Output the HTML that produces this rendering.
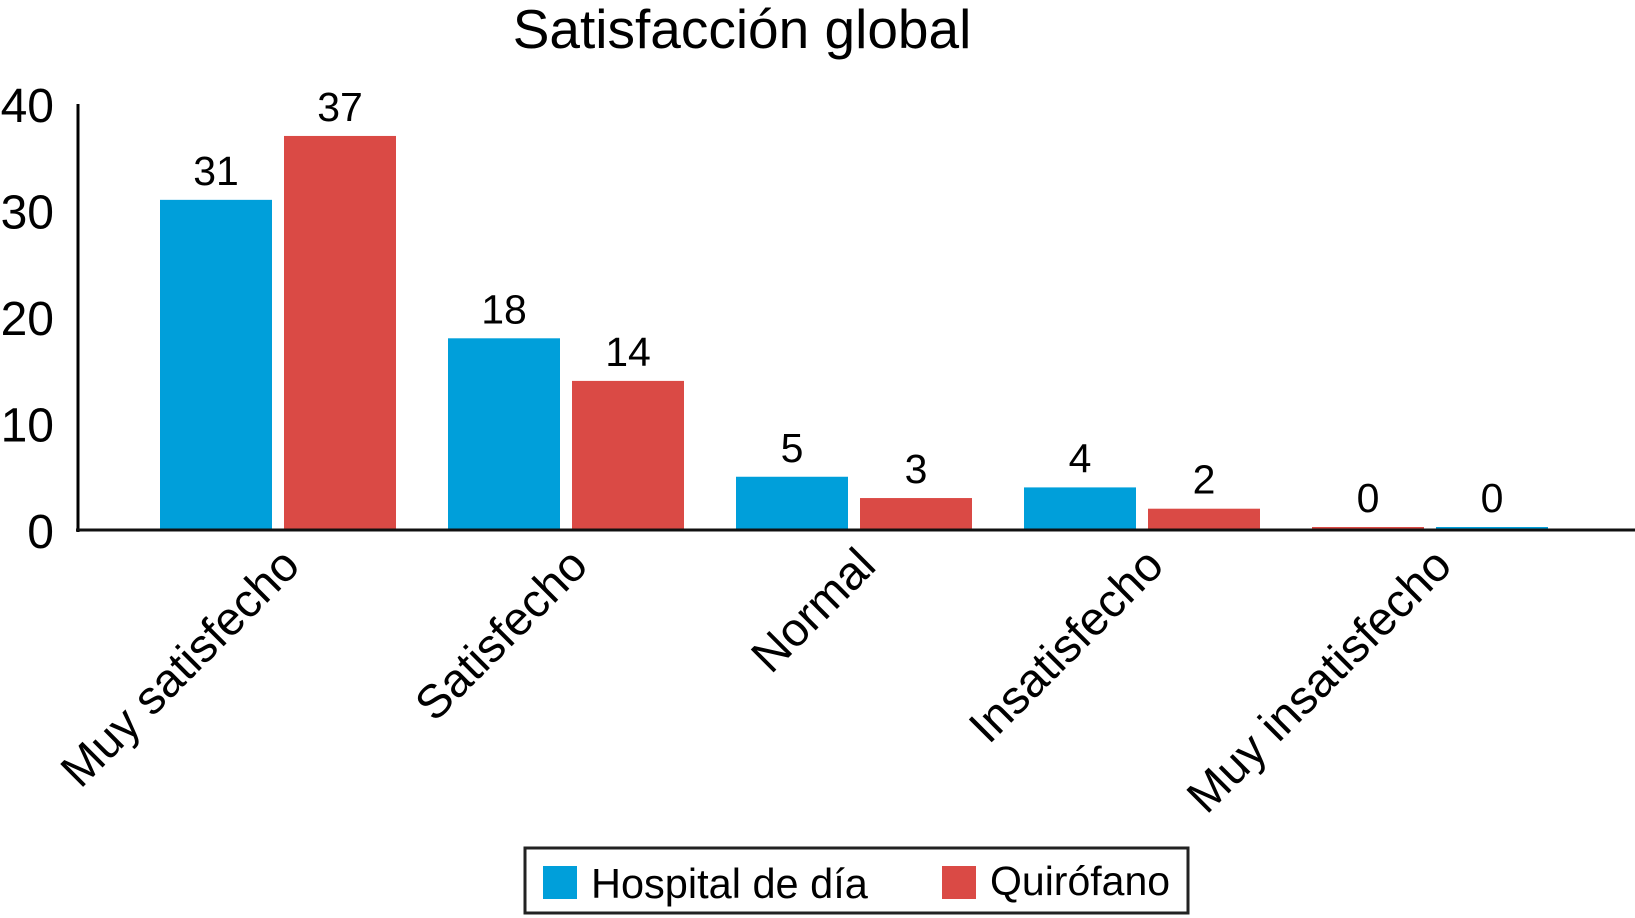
<!DOCTYPE html>
<html><head><meta charset="utf-8"><style>
html,body{margin:0;padding:0;background:#fff;}
svg{display:block;font-family:"Liberation Sans",sans-serif;}
</style></head><body>
<svg id="chart" width="1635" height="918" viewBox="0 0 1635 918">
<text x="742" y="48" font-size="55" text-anchor="middle" fill="#000">Satisfacción global</text>
<g id="ticks"></g>
<g id="bars"></g>
<g id="cats"></g>
<line x1="78" y1="104" x2="78" y2="532" stroke="#000" stroke-width="3"/>
<line x1="76" y1="530" x2="1635" y2="530" stroke="#111" stroke-width="3"/>
<g>
<rect x="525" y="848" width="663" height="65" fill="#fff" stroke="#222" stroke-width="3"/>
<rect x="543" y="866" width="34" height="33" fill="#009fda"/>
<text x="591" y="898" font-size="41.5" fill="#000">Hospital de día</text>
<rect x="942" y="866" width="34" height="33" fill="#da4a45"/>
<text x="990" y="895" font-size="41" fill="#000">Quirófano</text>
</g>
</svg>
<script>
const categories = ["Muy satisfecho","Satisfecho","Normal","Insatisfecho","Muy insatisfecho"];
const hospitalValues = [31,18,5,4,0];
const quirofanoValues = [37,14,3,2,0];
const yTicks = [0,10,20,30,40];
const NS="http://www.w3.org/2000/svg";
const y0=530, yTop=104, yMax=40;
function yScale(v){return y0-(v/yMax)*(y0-yTop);}
const groupStart=160, groupStep=288, barW=112, pairGap=12;
function xScale(i,s){return groupStart+i*groupStep+s*(barW+pairGap);}
const tg=document.getElementById('ticks');
yTicks.forEach(t=>{
 const e=document.createElementNS(NS,'text');
 e.setAttribute('x',54);e.setAttribute('y',yScale(t)+18);
 e.setAttribute('font-size','48');e.setAttribute('text-anchor','end');
 e.textContent=t;
 
 
 tg.appendChild(e);
});
const bg=document.getElementById('bars');
const cg=document.getElementById('cats');
categories.forEach((c,i)=>{
 const last = i===categories.length-1;
 const series=[{v:hospitalValues[i],col:'#009fda',n:'hospital'},{v:quirofanoValues[i],col:'#da4a45',n:'quirofano'}];
 series.forEach((s,k)=>{
  const slot = last ? 1-k : k;
  const x=xScale(i,slot);
  let top=yScale(s.v); let h=y0-top; if(h<3){h=3;top=y0-3;}
  const r=document.createElementNS(NS,'rect');
  r.setAttribute('x',x);r.setAttribute('y',top);r.setAttribute('width',barW);r.setAttribute('height',h);
  r.setAttribute('fill',s.col);
  
  
  bg.appendChild(r);
  const t=document.createElementNS(NS,'text');
  t.setAttribute('x',x+barW/2);t.setAttribute('y',top-15);
  t.setAttribute('font-size','41');t.setAttribute('text-anchor','middle');
  t.textContent=s.v;
  
  
  bg.appendChild(t);
 });
 const cx=groupStart+i*groupStep+barW+pairGap/2+24, cy=568;
 const l=document.createElementNS(NS,'text');
 l.setAttribute('x',cx);l.setAttribute('y',cy);
 l.setAttribute('font-size','47');l.setAttribute('text-anchor','end');
 l.setAttribute('transform','rotate(-45 '+cx+' '+cy+')');
 l.textContent=c;
 
 
 cg.appendChild(l);
});
</script>
</body></html>
